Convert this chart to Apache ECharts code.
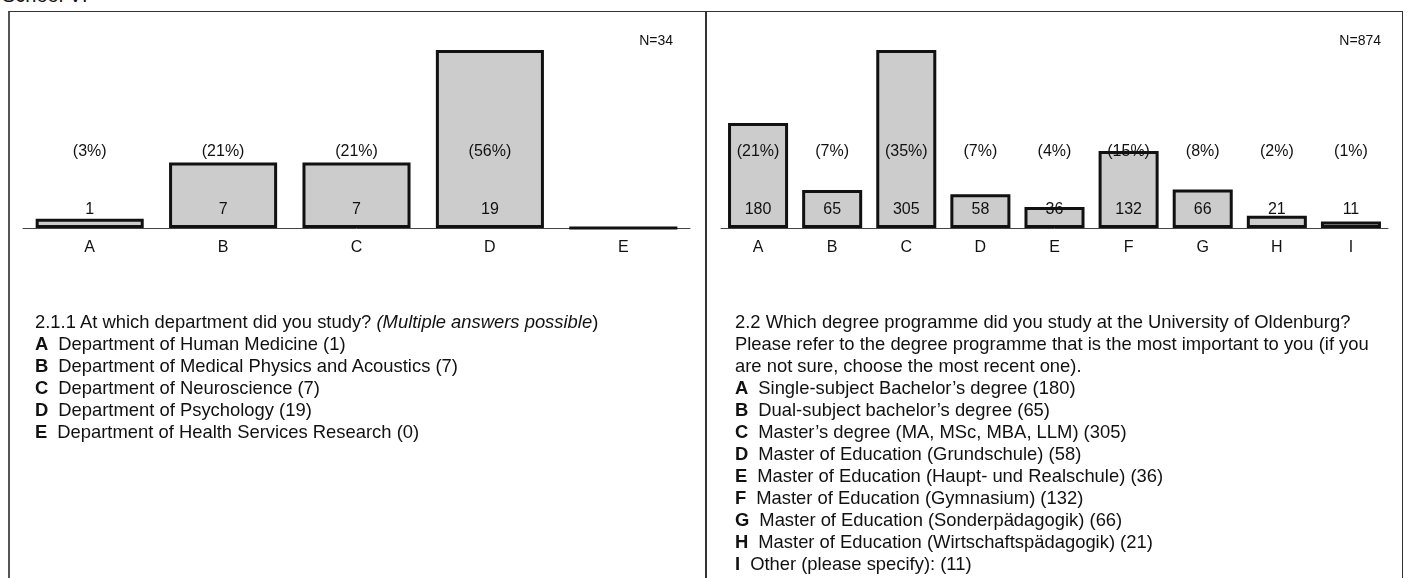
<!DOCTYPE html>
<html>
<head>
<meta charset="utf-8">
<script src="https://cdn.jsdelivr.net/npm/echarts@6/dist/echarts.min.js"></script>
<style>
  html, body { margin: 0; padding: 0; background: #fff; }
  body { width: 1407px; height: 578px; position: relative; overflow: hidden; font-family: "Liberation Sans", Arial, sans-serif; color: #111; }
  #head { position: absolute; left: 2px; top: -15px; font-size: 20px; line-height: 20px; color: #111; }
  #frame { position: absolute; left: 8px; top: 11px; width: 1395px; height: 600px; border-top: 1px solid #333; border-left: 2px solid #555; border-right: 1px solid #333; box-sizing: border-box; }
  #divider { position: absolute; left: 705px; top: 11px; width: 2px; height: 600px; background: #333; }
  #chart { position: absolute; left: 0; top: 0; width: 1407px; height: 578px; }
  .txt { position: absolute; top: 311px; font-size: 18.4px; line-height: 22px; white-space: nowrap; }
  #txtL { left: 35px; }
  #txtR { left: 735px; }
  .txt b { margin-right: 10px; }
</style>
</head>
<body>
<div id="head">School VI</div>
<div id="frame"></div>
<div id="divider"></div>
<div id="chart"></div>
<div class="txt" id="txtL"></div>
<div class="txt" id="txtR"></div>
<script>
// left chart: 2.1.1 department
const catsL = ['A', 'B', 'C', 'D', 'E'];
const valsL = [1, 7, 7, 19, 0];
const pctL = ['(3%)', '(21%)', '(21%)', '(56%)', ''];
const nL = 'N=34';
const questionL = ['2.1.1 At which department did you study? <i>(Multiple answers possible</i>)'];
const answersL = [
  'Department of Human Medicine (1)',
  'Department of Medical Physics and Acoustics (7)',
  'Department of Neuroscience (7)',
  'Department of Psychology (19)',
  'Department of Health Services Research (0)'
];

// right chart: 2.2 degree programme
const catsR = ['A', 'B', 'C', 'D', 'E', 'F', 'G', 'H', 'I'];
const valsR = [180, 65, 305, 58, 36, 132, 66, 21, 11];
const pctR = ['(21%)', '(7%)', '(35%)', '(7%)', '(4%)', '(15%)', '(8%)', '(2%)', '(1%)'];
const nR = 'N=874';
const questionR = [
  '2.2 Which degree programme did you study at the University of Oldenburg?',
  'Please refer to the degree programme that is the most important to you (if you',
  'are not sure, choose the most recent one).'
];
const answersR = [
  'Single-subject Bachelor\u2019s degree (180)',
  'Dual-subject bachelor\u2019s degree (65)',
  'Master\u2019s degree (MA, MSc, MBA, LLM) (305)',
  'Master of Education (Grundschule) (58)',
  'Master of Education (Haupt- und Realschule) (36)',
  'Master of Education (Gymnasium) (132)',
  'Master of Education (Sonderp\u00e4dagogik) (66)',
  'Master of Education (Wirtschaftsp\u00e4dagogik) (21)',
  'Other (please specify): (11)'
];

function fillText(id, question, cats, answers) {
  let html = question.join('<br>');
  answers.forEach((a, i) => { html += '<br><b>' + cats[i] + '</b>' + a; });
  document.getElementById(id).innerHTML = html;
}
fillText('txtL', questionL, catsL, answersL);
fillText('txtR', questionR, catsR, answersR);

const font = '"Liberation Sans", Arial, sans-serif';

function axes(gridIndex, cats) {
  return [
    {
      type: 'category', gridIndex, data: cats,
      axisLine: { lineStyle: { color: '#444', width: 1 } },
      axisTick: { alignWithLabel: true, length: 5, lineStyle: { color: '#222' } },
      axisLabel: { color: '#111', fontSize: 16, fontFamily: font, margin: 12 }
    },
    {
      type: 'category', gridIndex, data: cats, position: 'bottom',
      axisLine: { show: false },
      axisTick: { alignWithLabel: true, inside: true, length: 4, lineStyle: { color: '#222' } },
      axisLabel: { show: false }
    }
  ];
}

function barSeries(idx, vals, pcts) {
  return {
    type: 'bar', xAxisIndex: idx * 2, yAxisIndex: idx, data: vals,
    barCategoryGap: '19%',
    itemStyle: { color: '#cccccc', borderColor: '#111', borderWidth: 3 },
    label: {
      show: true, position: 'insideBottom', distance: 10,
      fontFamily: font, color: '#111',
      formatter: p => p.value === 0 ? '' : '{p|' + pcts[p.dataIndex] + '}\n{v|' + p.value + '}',
      rich: {
        p: { fontSize: 16, lineHeight: 100, fontFamily: font, color: '#111' },
        v: { fontSize: 16, lineHeight: 16, fontFamily: font, color: '#111' }
      }
    }
  };
}

const chart = echarts.init(document.getElementById('chart'));
chart.setOption({
  animation: false,
  grid: [
    { left: 23, right: 717, top: 50, bottom: 350 },
    { left: 721, right: 19, top: 50, bottom: 350 }
  ],
  xAxis: [...axes(0, catsL), ...axes(1, catsR)],
  yAxis: [
    { type: 'value', gridIndex: 0, min: 0, max: 'dataMax', show: false },
    { type: 'value', gridIndex: 1, min: 0, max: 'dataMax', show: false }
  ],
  graphic: [
    { type: 'text', right: 1407 - 673, top: 34, style: { text: nL, font: '14px ' + font, fill: '#111' } },
    { type: 'text', right: 1407 - 1381, top: 34, style: { text: nR, font: '14px ' + font, fill: '#111' } }
  ],
  series: [barSeries(0, valsL, pctL), barSeries(1, valsR, pctR)]
});
</script>
</body>
</html>
